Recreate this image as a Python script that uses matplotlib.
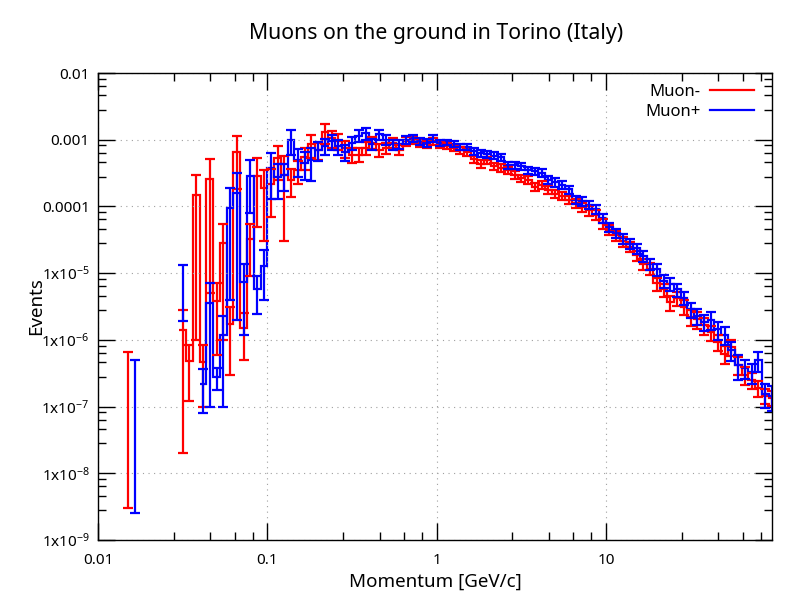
import numpy as np
import matplotlib.pyplot as plt
from matplotlib.lines import Line2D
from matplotlib.ticker import FixedLocator, FixedFormatter, NullFormatter

plt.rcParams['font.family'] = ['Noto Sans', 'DejaVu Sans']
plt.rcParams['mathtext.fontset'] = 'custom'
plt.rcParams['mathtext.rm'] = 'Noto Sans'
plt.rcParams['mathtext.it'] = 'Noto Sans'

# 100 log bins between 0.01 and 100 GeV/c
edges = np.logspace(-2, 2, 101)
centers = np.sqrt(edges[:-1] * edges[1:])

# Muon- (red), values per bin, 0 = empty bin
red_val = [
    0, 0, 0, 0, 3.3e-7, 0, 0, 0, 0, 0,
    0, 0, 1.41e-6, 4.8e-7, 1.5e-4, 4.7e-7, 2.6e-4, 3.8e-6, 2.8e-5, 1.7e-6,
    6.5e-4, 1.5e-6, 3.2e-5, 2.9e-4, 1.9e-4, 2.2e-4, 5.3e-4, 3.0e-4, 2.5e-4, 3.5e-4,
    5.5e-4, 8.5e-4, 7.0e-4, 1.3e-3, 1.05e-3, 9.5e-4, 7.5e-4, 6.0e-4, 6.0e-4, 7.5e-4,
    9.0e-4, 7.0e-4, 7.5e-4, 9.0e-4, 7.0e-4, 9.5e-4, 1.0e-3, 9.0e-4, 8.5e-4, 9.5e-4,
    8.5e-4, 8.1e-4, 7.5e-4, 6.9e-4, 6.5e-4, 5.1e-4, 4.4e-4, 4.9e-4, 4.0e-4, 3.8e-4,
    3.5e-4, 3.0e-4, 2.66e-4, 2.5e-4, 1.95e-4, 2.1e-4, 1.78e-4, 1.55e-4, 1.45e-4, 1.26e-4,
    1.12e-4, 9.8e-5, 8.7e-5, 7.5e-5, 5.6e-5, 4.5e-5, 3.7e-5, 3.0e-5, 2.5e-5, 1.85e-5,
    1.39e-5, 1.17e-5, 7.0e-6, 5.7e-6, 3.65e-6, 4.2e-6, 3.15e-6, 2.23e-6, 2.03e-6, 1.67e-6,
    1.29e-6, 9.4e-7, 6.2e-7, 7.9e-7, 4.2e-7, 3.0e-7, 2.53e-7, 1.9e-7, 1.46e-7, 1.35e-7,
]
red_err_low = [
    0, 0, 0, 0, 3.27e-7, 0, 0, 0, 0, 0,
    0, 0, 1.39e-6, 3.6e-7, 1.49e-4, 3.7e-7, 2.55e-4, 3.2e-6, 2.7e-5, 1.4e-6,
    4.7e-4, 1.0e-6, 2.3e-5, 2.4e-4, 1.6e-4, 1.5e-4, 2.8e-4, 2.7e-4, 1.1e-4, 1.3e-4,
    2.0e-4, 3.2e-4, 2.0e-4, 4.4e-4, 3.0e-4, 2.5e-4, 2.2e-4, 1.5e-4, 1.4e-4, 1.6e-4,
    1.8e-4, 1.5e-4, 1.4e-4, 1.5e-4, 1.2e-4, 1.4e-4, 1.3e-4, 1.2e-4, 1.1e-4, 1.1e-4,
    1.0e-4,
]
# relative errors for bins 51..99
red_rel_tail = [
    0.11, 0.11, 0.12, 0.12, 0.12, 0.14, 0.12, 0.13, 0.13,
    0.13, 0.13, 0.13, 0.13, 0.14, 0.13, 0.14, 0.14, 0.14, 0.15,
    0.15, 0.15, 0.16, 0.16, 0.17, 0.16, 0.17, 0.17, 0.18, 0.18,
    0.19, 0.2, 0.22, 0.22, 0.25, 0.24, 0.25, 0.27, 0.28, 0.29,
    0.26, 0.27, 0.3, 0.28, 0.3, 0.3, 0.28, 0.27, 0.25, 0.25,
]

# Muon+ (blue)
blue_val = [
    0, 0, 0, 0, 0, 2.48e-7, 0, 0, 0, 0,
    0, 0, 7.6e-6, 0, 0, 2.2e-7, 3.6e-6, 2.8e-7, 1.2e-6, 9.5e-5,
    1.6e-4, 7.4e-6, 2.9e-4, 5.8e-6, 1.3e-5, 3.8e-4, 2.8e-4, 3.0e-4, 1.0e-3, 5.0e-4,
    4.5e-4, 5.0e-4, 7.0e-4, 8.0e-4, 9.5e-4, 8.0e-4, 6.5e-4, 9.0e-4, 1.15e-3, 1.25e-3,
    8.5e-4, 1.2e-3, 1.0e-3, 8.5e-4, 8.5e-4, 1.0e-3, 1.05e-3, 9.5e-4, 9.0e-4, 1.05e-3,
    9.0e-4, 9.1e-4, 8.7e-4, 7.9e-4, 7.9e-4, 6.7e-4, 6.3e-4, 6.1e-4, 5.75e-4, 5.5e-4,
    4.2e-4, 4.2e-4, 4.0e-4, 3.5e-4, 3.35e-4, 3.2e-4, 2.5e-4, 2.3e-4, 2.1e-4, 1.8e-4,
    1.26e-4, 1.19e-4, 1.06e-4, 9.1e-5, 6.7e-5, 4.9e-5, 3.95e-5, 3.35e-5, 2.75e-5, 2.35e-5,
    1.8e-5, 1.36e-5, 1.15e-5, 7.7e-6, 6.9e-6, 5.7e-6, 4.3e-6, 2.87e-6, 2.28e-6, 1.88e-6,
    2.0e-6, 1.44e-6, 1.19e-6, 7.1e-7, 4.2e-7, 3.8e-7, 3.26e-7, 5.0e-7, 1.56e-7, 1.43e-7,
]
blue_err_low = [
    0, 0, 0, 0, 0, 2.455e-7, 0, 0, 0, 0,
    0, 0, 5.7e-6, 0, 0, 1.4e-7, 3.5e-6, 1.0e-7, 1.1e-6, 9.1e-5,
    1.58e-4, 6.2e-6, 2.1e-4, 3.4e-6, 9e-6, 2.5e-4, 1.5e-4, 1.3e-4, 4e-4, 2.2e-4,
    2.0e-4, 2.6e-4, 2.2e-4, 2.2e-4, 2.4e-4, 2.0e-4, 1.7e-4, 2.0e-4, 2.4e-4, 2.6e-4,
    1.6e-4, 2.0e-4, 1.8e-4, 1.4e-4, 1.3e-4, 1.4e-4, 1.4e-4, 1.2e-4, 1.1e-4, 1.2e-4,
    1.0e-4,
]
blue_rel_tail = [
    0.1, 0.1, 0.11, 0.11, 0.11, 0.12, 0.12, 0.12, 0.12,
    0.12, 0.12, 0.12, 0.13, 0.13, 0.13, 0.14, 0.14, 0.14, 0.14,
    0.15, 0.15, 0.15, 0.15, 0.16, 0.16, 0.16, 0.17, 0.17, 0.17,
    0.18, 0.19, 0.2, 0.21, 0.22, 0.22, 0.23, 0.25, 0.26, 0.27,
    0.3, 0.3, 0.3, 0.32, 0.4, 0.33, 0.33, 0.33, 0.4, 0.4,
]

y_ticks = [1e-9, 1e-8, 1e-7, 1e-6, 1e-5, 1e-4, 1e-3, 1e-2]
y_labels = ['1x10$^{-9}$', '1x10$^{-8}$', '1x10$^{-7}$', '1x10$^{-6}$',
            '1x10$^{-5}$', '0.0001', '0.001', '0.01']
x_ticks = [0.01, 0.1, 1, 10]
x_labels = ['0.01', '0.1', '1', '10']


def histeps(ax, vals, color):
    v = np.asarray(vals, dtype=float)
    ok = v > 0
    i = 0
    while i < len(v):
        if not ok[i]:
            i += 1
            continue
        j = i
        while j + 1 < len(v) and ok[j + 1]:
            j += 1
        if j > i:
            ax.stairs(v[i:j + 1], edges[i:j + 2], color=color, lw=1.6, baseline=None)
        i = j + 1


def errs(ax, vals, err_low, rel_tail, color):
    v = np.asarray(vals, dtype=float)
    e = np.concatenate([np.asarray(err_low), v[51:] * np.asarray(rel_tail)])
    m = v > 0
    ax.errorbar(centers[m], v[m], yerr=e[m], fmt='none', ecolor=color,
                elinewidth=1.6, capsize=3.3, capthick=1.6)


fig = plt.figure(figsize=(8, 6), dpi=100)
ax = fig.add_axes([98 / 800, 60 / 600, 674 / 800, 467 / 600])

histeps(ax, red_val, 'red')
errs(ax, red_val, red_err_low, red_rel_tail, 'red')
histeps(ax, blue_val, 'blue')
errs(ax, blue_val, blue_err_low, blue_rel_tail, 'blue')

ax.set_xscale('log')
ax.set_yscale('log')
ax.set_xlim(0.01, centers[-1])
ax.set_ylim(1e-9, 1e-2)

ax.xaxis.set_major_locator(FixedLocator(x_ticks))
ax.xaxis.set_major_formatter(FixedFormatter(x_labels))
ax.yaxis.set_major_locator(FixedLocator(y_ticks))
ax.yaxis.set_major_formatter(FixedFormatter(y_labels))
minors = [m * 10.0 ** k for k in range(-10, 3) for m in (2.8, 4.6, 6.4, 8.2)]
ax.xaxis.set_minor_locator(FixedLocator(minors))
ax.yaxis.set_minor_locator(FixedLocator(minors))
ax.xaxis.set_minor_formatter(NullFormatter())
ax.yaxis.set_minor_formatter(NullFormatter())

ax.tick_params(which='both', direction='in', top=True, right=True, width=1, labelsize=11)
ax.tick_params(which='major', length=12)
ax.tick_params(which='minor', length=6)
ax.tick_params(axis='x', pad=9)
ax.tick_params(axis='y', pad=6)
for s in ax.spines.values():
    s.set_linewidth(1)

ax.grid(True, which='major', color='#a0a0a0', linestyle=(0, (1, 4)), lw=0.8)

handles = [Line2D([], [], color='red', lw=1.6), Line2D([], [], color='blue', lw=1.6)]
ax.legend(handles, ['Muon-', 'Muon+'], loc='upper right', bbox_to_anchor=(0.973, 0.977),
          frameon=False, markerfirst=False, fontsize=12, handlelength=2.6,
          handletextpad=0.6, labelspacing=0.25, borderpad=0, borderaxespad=0)

fig.text(436 / 800, 1 - 34 / 600, 'Muons on the ground in Torino (Italy)',
         ha='center', va='center', fontsize=15.3)
fig.text(435 / 800, 1 - 582 / 600, 'Momentum [GeV/c]', ha='center', va='center', fontsize=13.5)
fig.text(36 / 800, 1 - 306 / 600, 'Events', ha='center', va='center', rotation=90, fontsize=13.5)

fig.savefig('out.png')
